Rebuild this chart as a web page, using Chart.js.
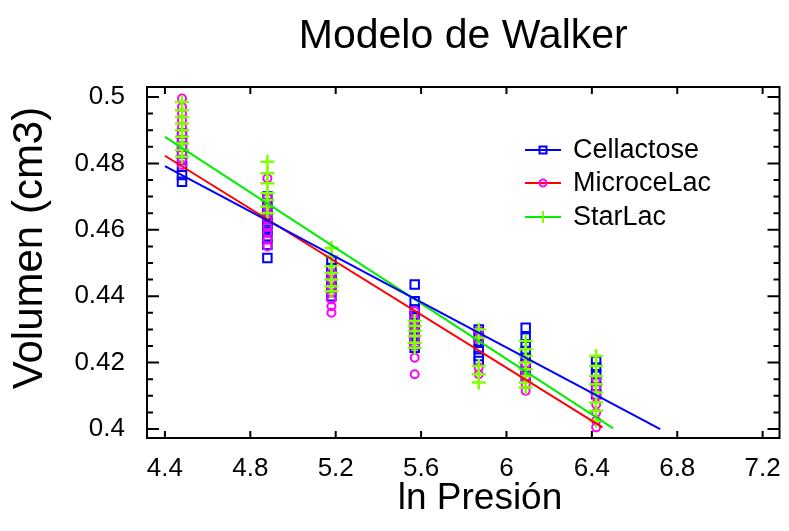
<!DOCTYPE html>
<html>
<head>
<meta charset="utf-8">
<title>Modelo de Walker</title>
<script src="https://cdn.jsdelivr.net/npm/chart.js@4/dist/chart.umd.min.js"></script>
<style>
  html, body { margin: 0; padding: 0; background: #fff; }
  canvas { display: block; }
</style>
</head>
<body>
<canvas id="walkerChart" width="789" height="531"></canvas>
<script>
// ln(pressure) levels where the samples were taken
const xLevels = [4.48, 4.88, 5.18, 5.57, 5.87, 6.09, 6.42];

// volume readings per level (one inner array per x level)
const cellactoseY = [
    [0.4745, 0.4765, 0.479, 0.481, 0.483, 0.485, 0.487, 0.489],
    [0.470, 0.468, 0.466, 0.464, 0.462, 0.460, 0.458, 0.4555, 0.4515],
    [0.4505, 0.4485, 0.4465, 0.4445, 0.4425, 0.440],
    [0.4435, 0.4385, 0.436, 0.434, 0.432, 0.430, 0.428, 0.426, 0.4245],
    [0.430, 0.428, 0.426, 0.424, 0.422, 0.4205],
    [0.4305, 0.4275, 0.4255, 0.4235, 0.4215, 0.4195, 0.4175, 0.416],
    [0.4205, 0.4185, 0.4165, 0.4145, 0.4125, 0.4105]
];
const microcelacY = [
    [0.4995, 0.497, 0.495, 0.493, 0.491, 0.489, 0.487, 0.485, 0.483, 0.481, 0.4795],
    [0.4755, 0.4695, 0.467, 0.465, 0.463, 0.461, 0.459, 0.457, 0.455],
    [0.447, 0.445, 0.443, 0.441, 0.439, 0.437, 0.435],
    [0.4355, 0.433, 0.431, 0.429, 0.427, 0.425, 0.4215, 0.4165],
    [0.4295, 0.427, 0.4185, 0.4165],
    [0.4195, 0.4175, 0.4155, 0.4135, 0.4115],
    [0.415, 0.4125, 0.410, 0.4075, 0.405, 0.4025, 0.4005]
];
const starlacY = [
    [0.4985, 0.496, 0.494, 0.492, 0.490, 0.488, 0.486, 0.484, 0.482],
    [0.4805, 0.477, 0.474, 0.471, 0.469, 0.467, 0.465],
    [0.4545, 0.452, 0.449, 0.447, 0.445, 0.443, 0.4415],
    [0.4325, 0.431, 0.4295, 0.428, 0.426, 0.4245],
    [0.430, 0.4275, 0.419, 0.4165, 0.414],
    [0.4265, 0.424, 0.422, 0.420, 0.418, 0.416, 0.414, 0.4125],
    [0.422, 0.419, 0.416, 0.4135, 0.411, 0.408, 0.4055, 0.4025]
];

// fitted straight lines (start and end)
const cellactoseFitX = [4.4, 6.72];
const cellactoseFitY = [0.4792, 0.4000];
const microcelacFitX = [4.4, 6.45];
const microcelacFitY = [0.4823, 0.4005];
const starlacFitX = [4.4, 6.50];
const starlacFitY = [0.4880, 0.4002];

// axis ticks
const xTicks = [4.4, 4.8, 5.2, 5.6, 6, 6.4, 6.8, 7.2];
const yTicks = [0.4, 0.42, 0.44, 0.46, 0.48, 0.5];
const yMinorStep = 0.005;

const seriesNames = ['Cellactose', 'MicroceLac', 'StarLac'];
const chartTitle = 'Modelo de Walker';
const xTitle = 'ln Presión';
const yTitle = 'Volumen (cm3)';

const FONT = "'Liberation Sans', Arial, sans-serif";
const BLUE = '#0000ff';
const RED = '#ff0000';
const MAGENTA = '#ff00ff';
const GREEN_LINE = '#00ee00';
const GREEN_MARK = '#80ff00';

function toPoints(levels) {
    const pts = [];
    levels.forEach((vals, i) => {
        vals.forEach(v => pts.push({ x: xLevels[i], y: v }));
    });
    return pts;
}

function toLine(xs, ys) {
    return xs.map((x, i) => ({ x: x, y: ys[i] }));
}

// frame, inward ticks (major + minor) and the titles
const framePlugin = {
    id: 'frame',
    afterDraw(chart) {
        const { ctx, chartArea: a, scales } = chart;
        const xs = scales.x, ys = scales.y;
        ctx.save();
        ctx.strokeStyle = '#000';
        ctx.lineWidth = 2;
        ctx.strokeRect(a.left, a.top, a.right - a.left, a.bottom - a.top);

        ctx.beginPath();
        xTicks.forEach(v => {
            const px = xs.getPixelForValue(v);
            ctx.moveTo(px, a.bottom); ctx.lineTo(px, a.bottom - 7);
            ctx.moveTo(px, a.top); ctx.lineTo(px, a.top + 7);
        });
        for (let v = yTicks[0]; v <= yTicks[yTicks.length - 1] + 1e-9; v += yMinorStep) {
            const isMajor = yTicks.some(t => Math.abs(t - v) < 1e-6);
            const len = isMajor ? 12 : 6;
            const py = ys.getPixelForValue(v);
            ctx.moveTo(a.left, py); ctx.lineTo(a.left + len, py);
            ctx.moveTo(a.right, py); ctx.lineTo(a.right - len, py);
        }
        ctx.stroke();

        ctx.fillStyle = '#000';
        ctx.textAlign = 'center';
        ctx.textBaseline = 'middle';
        ctx.font = '41px ' + FONT;
        ctx.fillText(chartTitle, (a.left + a.right) / 2, 37);

        ctx.font = '37px ' + FONT;
        ctx.fillText(xTitle, 480, 499);

        ctx.translate(30, 248);
        ctx.rotate(-Math.PI / 2);
        ctx.font = '42px ' + FONT;
        ctx.fillText(yTitle, 0, 0);
        ctx.restore();
    }
};

// legend inside the plot
const legendPlugin = {
    id: 'insideLegend',
    afterDraw(chart) {
        const ctx = chart.ctx;
        const lineColors = [BLUE, RED, GREEN_LINE];
        const markColors = [BLUE, MAGENTA, GREEN_MARK];
        const rows = [150, 183, 217];
        ctx.save();
        ctx.font = '27px ' + FONT;
        ctx.textBaseline = 'middle';
        ctx.textAlign = 'left';
        seriesNames.forEach((name, i) => {
            const y = rows[i];
            ctx.strokeStyle = lineColors[i];
            ctx.lineWidth = 2;
            ctx.beginPath();
            ctx.moveTo(525, y); ctx.lineTo(561, y);
            ctx.stroke();
            ctx.strokeStyle = markColors[i];
            ctx.lineWidth = 2;
            ctx.beginPath();
            if (i === 0) {
                ctx.rect(539.5, y - 3.5, 7, 7);
            } else if (i === 1) {
                ctx.arc(543, y, 3.5, 0, Math.PI * 2);
            } else {
                ctx.moveTo(543, y - 6); ctx.lineTo(543, y + 6);
            }
            ctx.stroke();
            ctx.fillStyle = '#000';
            ctx.fillText(name, 573, y + 1);
        });
        ctx.restore();
    }
};

const ctx = document.getElementById('walkerChart');

new Chart(ctx, {
    type: 'scatter',
    data: {
        datasets: [
            {
                type: 'line', label: 'Cellactose fit',
                data: toLine(cellactoseFitX, cellactoseFitY),
                borderColor: BLUE, borderWidth: 2, pointRadius: 0, fill: false, order: 0
            },
            {
                type: 'line', label: 'MicroceLac fit',
                data: toLine(microcelacFitX, microcelacFitY),
                borderColor: RED, borderWidth: 2, pointRadius: 0, fill: false, order: 1
            },
            {
                type: 'line', label: 'StarLac fit',
                data: toLine(starlacFitX, starlacFitY),
                borderColor: GREEN_LINE, borderWidth: 2, pointRadius: 0, fill: false, order: 2
            },
            {
                label: 'StarLac',
                data: toPoints(starlacY),
                pointStyle: 'cross', pointRadius: 7, borderWidth: 2.5,
                borderColor: GREEN_MARK, backgroundColor: 'transparent', order: 3
            },
            {
                label: 'MicroceLac',
                data: toPoints(microcelacY),
                pointStyle: 'circle', pointRadius: 4, borderWidth: 2,
                borderColor: MAGENTA, backgroundColor: 'transparent', order: 4
            },
            {
                label: 'Cellactose',
                data: toPoints(cellactoseY),
                pointStyle: 'rect', pointRadius: 6, borderWidth: 2,
                borderColor: BLUE, backgroundColor: 'transparent', order: 5
            }
        ]
    },
    options: {
        responsive: false,
        animation: false,
        devicePixelRatio: 1,
        layout: {
            padding: { top: 87, right: 6, left: 0, bottom: 0 }
        },
        plugins: {
            legend: { display: false },
            tooltip: { enabled: false },
            title: { display: false }
        },
        scales: {
            x: {
                type: 'linear',
                min: 4.316,
                max: 7.279,
                afterBuildTicks: scale => { scale.ticks = xTicks.map(v => ({ value: v })); },
                afterFit: scale => { scale.height = 93; },
                grid: { display: false },
                border: { display: false },
                ticks: {
                    color: '#000',
                    font: { family: FONT, size: 26 },
                    padding: 7,
                    maxRotation: 0,
                    autoSkip: false,
                    callback: v => String(+v.toFixed(2))
                },
                title: { display: false }
            },
            y: {
                type: 'linear',
                min: 0.3973,
                max: 0.503,
                afterBuildTicks: scale => { scale.ticks = yTicks.map(v => ({ value: v })); },
                afterFit: scale => { scale.width = 147; },
                grid: { display: false },
                border: { display: false },
                ticks: {
                    color: '#000',
                    font: { family: FONT, size: 26 },
                    padding: 14,
                    autoSkip: false,
                    callback: v => String(+v.toFixed(3))
                },
                title: { display: false }
            }
        }
    },
    plugins: [framePlugin, legendPlugin]
});
</script>
</body>
</html>
